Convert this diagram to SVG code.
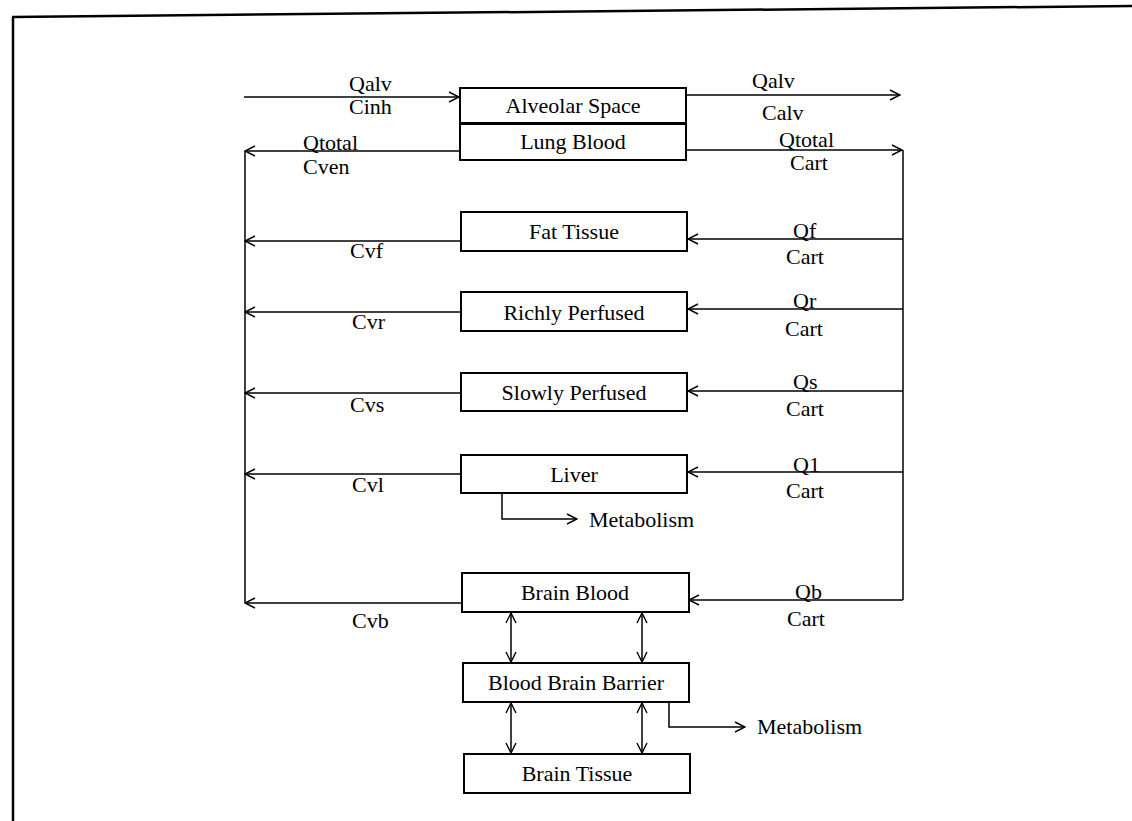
<svg xmlns="http://www.w3.org/2000/svg" width="1132" height="821" viewBox="0 0 1132 821">
<defs>
<marker id="ah" viewBox="0 0 12 12" refX="11" refY="6" markerWidth="12" markerHeight="12" markerUnits="userSpaceOnUse" orient="auto-start-reverse">
<path d="M1,1 L11,6 L1,11" fill="none" stroke="#000" stroke-width="1.4"/>
</marker>
<style>
.box{fill:#fff;stroke:#000;stroke-width:2}
.t{font-family:"Liberation Serif","Times New Roman",serif;font-size:22px;fill:#000}
.c{text-anchor:middle}
.ln{fill:none;stroke:#000;stroke-width:1.5}
.ar{fill:none;stroke:#000;stroke-width:1.5;marker-end:url(#ah)}
.bi{fill:none;stroke:#000;stroke-width:1.5;marker-end:url(#ah);marker-start:url(#ah)}
</style>
</defs>
<rect width="1132" height="821" fill="#fff"/>
<g id="frame">
<line x1="12" y1="17" x2="1132" y2="6" stroke="#000" stroke-width="2.5"/>
<line x1="13" y1="17" x2="13" y2="821" stroke="#000" stroke-width="2.5"/>
</g>
<g id="connectors">
<line class="ar" x1="244" y1="97" x2="459" y2="97"/>
<line class="ar" x1="686" y1="95" x2="900" y2="95"/>
<line class="ar" x1="460" y1="151" x2="245" y2="151"/>
<line class="ar" x1="686" y1="150" x2="902" y2="150"/>
<line class="ln" x1="903" y1="150" x2="903" y2="600"/>
<line class="ln" x1="245" y1="151" x2="245" y2="603"/>
<line class="ar" x1="903" y1="239" x2="688" y2="239"/>
<line class="ar" x1="461" y1="241" x2="245" y2="241"/>
<line class="ar" x1="903" y1="309" x2="688" y2="309"/>
<line class="ar" x1="461" y1="312" x2="245" y2="312"/>
<line class="ar" x1="903" y1="391" x2="688" y2="391"/>
<line class="ar" x1="461" y1="393" x2="245" y2="393"/>
<line class="ar" x1="903" y1="472" x2="688" y2="472"/>
<line class="ar" x1="461" y1="474" x2="245" y2="474"/>
<polyline class="ar" points="502,493 502,519 577,519"/>
<line class="ar" x1="903" y1="600" x2="689" y2="600"/>
<line class="ar" x1="462" y1="603" x2="245" y2="603"/>
<line class="bi" x1="511" y1="613" x2="511" y2="662"/>
<line class="bi" x1="642" y1="613" x2="642" y2="662"/>
<polyline class="ar" points="669,702 669,727 745,727"/>
<line class="bi" x1="511" y1="703" x2="511" y2="753"/>
<line class="bi" x1="642" y1="703" x2="642" y2="753"/>
</g>
<g id="labels">
<text class="t" x="349" y="91">Qalv</text>
<text class="t" x="349" y="114">Cinh</text>
<text class="t" x="752" y="88">Qalv</text>
<text class="t" x="762" y="120">Calv</text>
<text class="t" x="303" y="150">Qtotal</text>
<text class="t" x="303" y="174">Cven</text>
<text class="t" x="779" y="147">Qtotal</text>
<text class="t" x="790" y="170">Cart</text>
<text class="t" x="350" y="258">Cvf</text>
<text class="t" x="793" y="238">Qf</text>
<text class="t" x="786" y="264">Cart</text>
<text class="t" x="352" y="329">Cvr</text>
<text class="t" x="793" y="308">Qr</text>
<text class="t" x="785" y="336">Cart</text>
<text class="t" x="350" y="412">Cvs</text>
<text class="t" x="793" y="389">Qs</text>
<text class="t" x="786" y="416">Cart</text>
<text class="t" x="352" y="492">Cvl</text>
<text class="t" x="793" y="472">Q1</text>
<text class="t" x="786" y="498">Cart</text>
<text class="t" x="589" y="527">Metabolism</text>
<text class="t" x="352" y="628">Cvb</text>
<text class="t" x="795" y="599">Qb</text>
<text class="t" x="787" y="626">Cart</text>
<text class="t" x="757" y="734">Metabolism</text>
</g>
<g id="alveolar"><rect class="box" x="460" y="88" width="226" height="35"/><text class="t c" x="573" y="113">Alveolar Space</text></g>
<g id="lung"><rect class="box" x="460" y="124" width="226" height="36"/><text class="t c" x="573" y="149">Lung Blood</text></g>
<g id="fat"><rect class="box" x="461" y="212" width="226" height="39"/><text class="t c" x="574" y="239">Fat Tissue</text></g>
<g id="rich"><rect class="box" x="461" y="292" width="226" height="39"/><text class="t c" x="574" y="320">Richly Perfused</text></g>
<g id="slow"><rect class="box" x="461" y="373" width="226" height="38"/><text class="t c" x="574" y="400">Slowly Perfused</text></g>
<g id="liver"><rect class="box" x="461" y="455" width="226" height="38"/><text class="t c" x="574" y="482">Liver</text></g>
<g id="brainblood"><rect class="box" x="462" y="573" width="227" height="39"/><text class="t c" x="575" y="600">Brain Blood</text></g>
<g id="bbb"><rect class="box" x="463" y="663" width="226" height="39"/><text class="t c" x="576" y="690">Blood Brain Barrier</text></g>
<g id="braintissue"><rect class="box" x="464" y="754" width="226" height="39"/><text class="t c" x="577" y="781">Brain Tissue</text></g>
</svg>
